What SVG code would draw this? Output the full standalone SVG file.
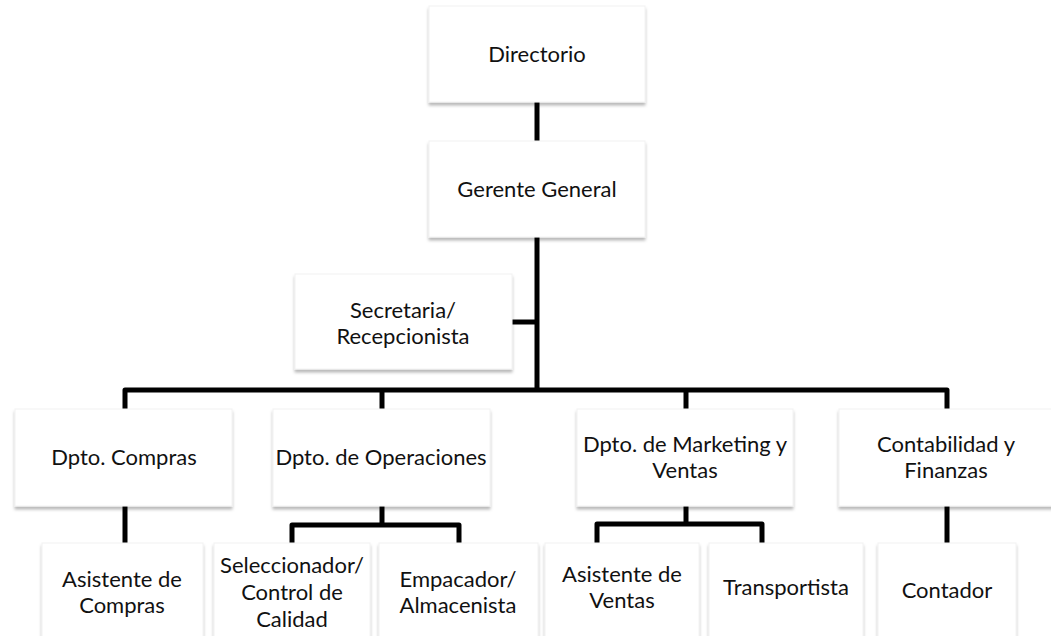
<svg xmlns="http://www.w3.org/2000/svg" width="1051" height="636" viewBox="0 0 1051 636">
<style>
.box{fill:#fff;stroke:#f2f2f2;stroke-width:1;filter:url(#sh)}
.t{font-family:Lato,"Liberation Sans",sans-serif;font-size:22px;fill:#111;text-anchor:middle}
.c{fill:none;stroke:#000;stroke-width:5;stroke-linejoin:round}
</style>
<defs>
<filter id="sh" x="-10%" y="-10%" width="120%" height="130%">
<feDropShadow dx="0" dy="3" stdDeviation="1.5" flood-color="#000" flood-opacity="0.28"/>
</filter>
</defs>
<rect width="1051" height="636" fill="#fff"/>
<g id="connectors">
<path class="c" d="M537 102V141"/>
<path class="c" d="M537 237V390"/>
<path class="c" d="M512 322H537"/>
<path class="c" d="M125 410V390H947V410"/>
<path class="c" d="M382 390V410"/>
<path class="c" d="M686 390V410"/>
<path class="c" d="M125 506V543"/>
<path class="c" d="M947 506V543"/>
<path class="c" d="M382 506V525"/>
<path class="c" d="M292 543V525H459V543"/>
<path class="c" d="M686 506V524"/>
<path class="c" d="M597 543V524H762V543"/>
</g>
<g id="directorio"><rect class="box" x="429" y="6" width="216" height="96"/><text class="t" x="537" y="62">Directorio</text></g>
<g id="gerente"><rect class="box" x="429" y="141" width="216" height="96"/><text class="t" x="537" y="197">Gerente General</text></g>
<g id="secretaria"><rect class="box" x="295" y="274" width="217" height="95"/><text class="t" x="403" y="318">Secretaria/</text><text class="t" x="403" y="344">Recepcionista</text></g>
<g id="compras"><rect class="box" x="15" y="409" width="217" height="97"/><text class="t" x="124" y="465">Dpto. Compras</text></g>
<g id="operaciones"><rect class="box" x="273" y="409" width="217" height="97"/><text class="t" x="381" y="465">Dpto. de Operaciones</text></g>
<g id="marketing"><rect class="box" x="577" y="409" width="216" height="97"/><text class="t" x="685" y="452">Dpto. de Marketing y</text><text class="t" x="685" y="478">Ventas</text></g>
<g id="contabilidad"><rect class="box" x="839" y="409" width="216" height="97"/><text class="t" x="946" y="452">Contabilidad y</text><text class="t" x="946" y="478">Finanzas</text></g>
<g id="asistente-compras"><rect class="box" x="42" y="543" width="161" height="100"/><text class="t" x="122" y="587">Asistente de</text><text class="t" x="122" y="613">Compras</text></g>
<g id="seleccionador"><rect class="box" x="214" y="543" width="156" height="100"/><text class="t" x="292" y="573">Seleccionador/</text><text class="t" x="292" y="600">Control de</text><text class="t" x="292" y="627">Calidad</text></g>
<g id="empacador"><rect class="box" x="379" y="543" width="159" height="100"/><text class="t" x="458" y="587">Empacador/</text><text class="t" x="458" y="613">Almacenista</text></g>
<g id="asistente-ventas"><rect class="box" x="545" y="543" width="154" height="100"/><text class="t" x="622" y="582">Asistente de</text><text class="t" x="622" y="608">Ventas</text></g>
<g id="transportista"><rect class="box" x="709" y="543" width="154" height="100"/><text class="t" x="786" y="595">Transportista</text></g>
<g id="contador"><rect class="box" x="878" y="543" width="138" height="100"/><text class="t" x="947" y="598">Contador</text></g>
</svg>
